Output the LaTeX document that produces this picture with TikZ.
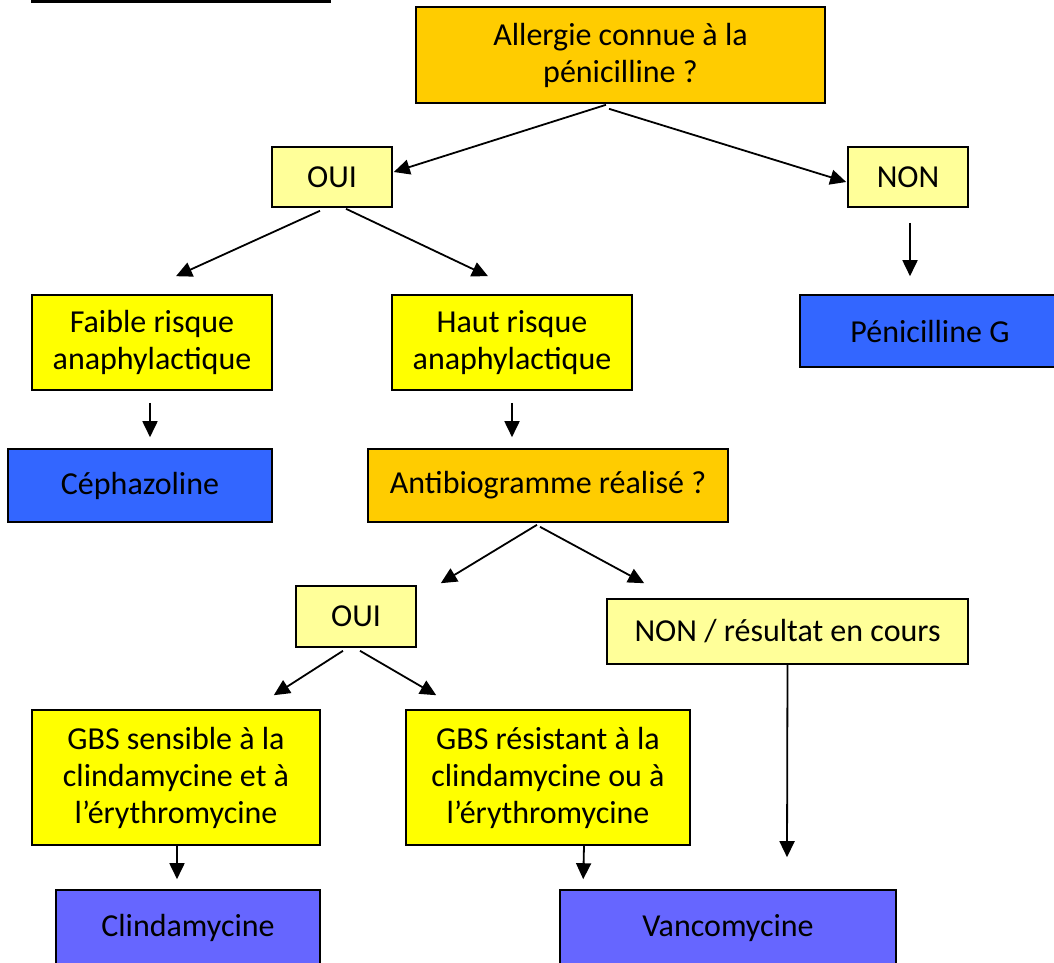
\documentclass[tikz,border=0pt]{standalone}
\usepackage{fontspec}
\setmainfont{Carlito}
\usetikzlibrary{arrows.meta}
\definecolor{questionorange}{HTML}{FFCC00}
\definecolor{answeryellow}{HTML}{FFFF99}
\definecolor{riskyellow}{HTML}{FFFF00}
\definecolor{drugblue}{HTML}{3366FF}
\definecolor{drugviolet}{HTML}{6666FF}

\begin{document}
\begin{tikzpicture}[x=0.5pt,y=-0.5pt,
		box/.style={draw=black,line width=0.8pt,inner sep=0pt,align=center,
			font=\fontsize{16}{18.5}\selectfont},
		question/.style={box,fill=questionorange},
		answer/.style={box,fill=answeryellow},
		risk/.style={box,fill=riskyellow},
		drug/.style={box,fill=drugblue},
		drugalt/.style={box,fill=drugviolet},
		arr/.style={-{Triangle[length=8pt,width=7.5pt]},line width=0.9pt}
		]
		\useasboundingbox (0,0) rectangle (1054,963);
		\draw[line width=1.5pt] (31,2) -- (331,2);
		% first question
		\node[question,minimum width=204.5pt,minimum height=48pt] (allergie) at (620.5,55) {Allergie connue à la\\pénicilline ?};
		\node[answer,minimum width=60pt,minimum height=30pt] (oui1) at (332,177) {OUI};
		\node[answer,minimum width=60pt,minimum height=30pt] (non1) at (908,177) {NON};
		\node[risk,minimum width=120pt,minimum height=47.5pt] (faible) at (152,342.5) {Faible risque\\anaphylactique};
		\node[risk,minimum width=120pt,minimum height=47.5pt] (haut) at (512,342.5) {Haut risque\\anaphylactique};
		\node[drug,minimum width=130pt,minimum height=36pt] (penG) at (930,331) {Pénicilline G};
		\node[drug,minimum width=132pt,minimum height=36.5pt] (cepha) at (140,485.5) {Céphazoline};
		% second question
		\node[question,minimum width=180pt,minimum height=36.5pt] (antibio) at (548,485.5) {Antibiogramme réalisé ?};
		\node[answer,minimum width=60pt,minimum height=30.5pt] (oui2) at (356,616.5) {OUI};
		\node[answer,minimum width=180.5pt,minimum height=32.5pt] (nonres) at (787.5,631.5) {NON / résultat en cours};
		\node[risk,minimum width=144pt,minimum height=67.5pt] (gbss) at (176,777.5) {GBS sensible à la\\clindamycine et à\\l’érythromycine};
		\node[risk,minimum width=142pt,minimum height=67.5pt] (gbsr) at (548,777.5) {GBS résistant à la\\clindamycine ou à\\l’érythromycine};
		\node[drugalt,minimum width=132pt,minimum height=38pt] (clinda) at (188,928) {Clindamycine};
		\node[drugalt,minimum width=168pt,minimum height=38pt] (vanco) at (728,928) {Vancomycine};
		% arrows
		\draw[arr] ([xshift=-7.25pt,yshift=-0.5pt]allergie.south) -- ([xshift=0.5pt,yshift=2.5pt]oui1.east);
		\draw[arr] ([xshift=-5.75pt,yshift=-2.5pt]allergie.south) -- ([xshift=-0.5pt,yshift=-2.5pt]non1.west);
		\draw[arr] ([xshift=-6pt,yshift=-1.5pt]oui1.south) -- ([xshift=12pt,yshift=9pt]faible.north);
		\draw[arr] ([xshift=7pt,yshift=-0.5pt]oui1.south) -- ([xshift=-12pt,yshift=9pt]haut.north);
		\draw[arr] ([xshift=1pt,yshift=-7.5pt]non1.south) -- ([xshift=-10pt,yshift=9pt]penG.north);
		\draw[arr] ([xshift=-1pt,yshift=-6pt]faible.south) -- ([xshift=5pt,yshift=5.5pt]cepha.north);
		\draw[arr] ([yshift=-6pt]haut.south) -- ([xshift=-18pt,yshift=5.5pt]antibio.north);
		\draw[arr] ([xshift=-5.5pt,yshift=-1pt]antibio.south) -- ([xshift=12pt,yshift=1pt]oui2.north east);
		\draw[arr] ([xshift=-4pt,yshift=-2pt]antibio.south) -- ([xshift=19pt,yshift=7.5pt]nonres.north west);
		\draw[arr] ([xshift=-6.5pt,yshift=-1.5pt]oui2.south) -- ([xshift=-23.5pt,yshift=7pt]gbss.north east);
		\draw[arr] ([xshift=2pt,yshift=-1.5pt]oui2.south) -- ([xshift=15.5pt,yshift=7pt]gbsr.north west);
		\draw[arr] ([xshift=0.5pt]gbss.south) -- ([xshift=-5.5pt,yshift=5pt]clinda.north);
		\draw[arr] ([xshift=18pt]gbsr.south) -- ([xshift=12pt,yshift=5pt]vanco.north west);
		\draw[arr] (nonres.south) -- ([xshift=29.5pt,yshift=16pt]vanco.north);
		\end{tikzpicture}
\end{document}
